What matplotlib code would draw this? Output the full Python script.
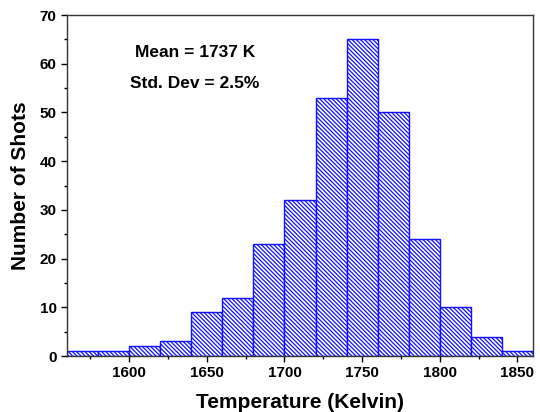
import numpy as np
import matplotlib.pyplot as plt
from matplotlib.ticker import MultipleLocator

plt.rcParams['font.family'] = ['Liberation Sans', 'DejaVu Sans']
plt.rcParams['font.weight'] = 'bold'
plt.rcParams['hatch.linewidth'] = 0.9

# histogram data (bin edges in Kelvin, counts per bin)
bin_edges = [1560, 1580, 1600, 1620, 1640, 1660, 1680, 1700, 1720,
             1740, 1760, 1780, 1800, 1820, 1840, 1860]
counts = [1, 1, 2, 3, 9, 12, 23, 32, 53, 65, 50, 24, 10, 4, 1]

fig = plt.figure(figsize=(5.4, 4.12), dpi=100)
ax = fig.add_axes([67/540, 56/412, 466/540, 341/412])

left = np.array(bin_edges[:-1])
width = np.diff(bin_edges)
ax.bar(left, counts, width=width, align='edge', color='white',
       edgecolor='#1010ff', hatch='\\' * 8, linewidth=1.0)

ax.set_xlim(1560, 1860)
ax.set_ylim(0, 70)
ax.xaxis.set_major_locator(MultipleLocator(50))
ax.xaxis.set_minor_locator(MultipleLocator(25))
ax.yaxis.set_major_locator(MultipleLocator(10))
ax.yaxis.set_minor_locator(MultipleLocator(5))
ax.tick_params(which='major', direction='out', length=4, width=1, labelsize=11)
ax.tick_params(which='minor', direction='out', length=2, width=1)
ax.set_xticks([1600, 1650, 1700, 1750, 1800, 1850])

for s in ax.spines.values():
    s.set_color('#333333')
    s.set_linewidth(1.0)

ax.set_xlabel('Temperature (Kelvin)', fontsize=15, fontweight='bold', labelpad=9)
ax.set_ylabel('Number of Shots', fontsize=15, fontweight='bold', labelpad=7)

ax.text(0.275, 0.891, 'Mean = 1737 K', transform=ax.transAxes, fontsize=12.5,
        fontweight='bold', ha='center', va='center')
ax.text(0.275, 0.80, 'Std. Dev = 2.5%', transform=ax.transAxes, fontsize=12.5,
        fontweight='bold', ha='center', va='center')

fig.savefig('out.png', dpi=100)
